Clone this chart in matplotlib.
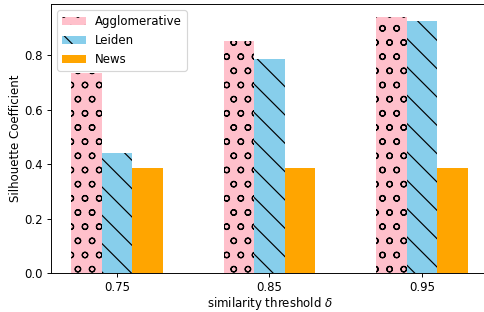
import matplotlib
matplotlib.use("Agg")
import matplotlib.pyplot as plt
import numpy as np

# similarity thresholds on the x axis
thresholds = ["0.75", "0.85", "0.95"]

# silhouette coefficient per method
agglomerative = [0.734, 0.851, 0.939]
leiden = [0.441, 0.785, 0.925]
news = [0.384, 0.384, 0.384]

DPI = 85
fig = plt.figure(figsize=(484 / DPI, 312 / DPI), dpi=DPI)
ax = fig.add_axes([0.1062, 0.125, 0.9012, 0.861])

x = np.arange(len(thresholds))
width = 0.2

ax.bar(x - width, agglomerative, width, color="pink", hatch="o", label="Agglomerative")
ax.bar(x, leiden, width, color="skyblue", hatch="\\", label="Leiden")
ax.bar(x + width, news, width, color="orange", label="News")

ax.set_xticks(x)
ax.set_xticklabels(thresholds)
ax.set_xlabel(r"similarity threshold $\delta$", labelpad=0.8)
ax.set_ylabel("Silhouette Coefficient", labelpad=2)
ax.legend(loc="upper left")

fig.savefig("out.png", dpi=DPI)
